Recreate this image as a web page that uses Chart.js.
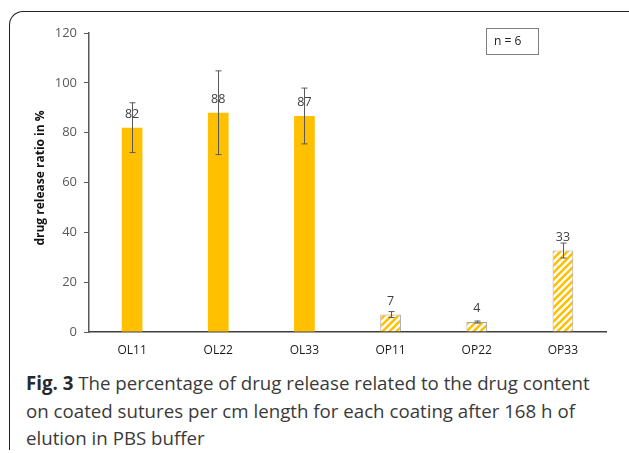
<!DOCTYPE html>
<html>
<head>
<meta charset="utf-8">
<script src="https://cdn.jsdelivr.net/npm/chart.js@4"></script>
<style>
  html,body{margin:0;padding:0;background:#fff;}
  body{width:629px;height:453px;position:relative;overflow:hidden;font-family:"Open Sans",sans-serif;}
  #panel{position:absolute;left:9px;top:11px;width:640px;height:438px;border-left:1.5px solid #222;border-top:1.5px solid #222;border-top-left-radius:14px;}
  #wrap{position:absolute;left:0;top:0;width:629px;height:365px;}
  #caption{position:absolute;left:26px;top:369px;width:610px;font-size:18.7px;line-height:27.5px;color:#3a3a3a;white-space:nowrap;}
  #caption b{color:#2a2a2a;}
</style>
</head>
<body>
<div id="panel"></div>
<div id="wrap"><canvas id="c" width="629" height="365"></canvas></div>
<div id="caption"><b>Fig. 3</b> The percentage of drug release related to the drug content<br>on coated sutures per cm length for each coating after 168 h of<br>elution in PBS buffer</div>
<script>
const categories = ["OL11","OL22","OL33","OP11","OP22","OP33"];
const releaseValues = [82, 88, 86.7, 7, 4, 32.7];
const errorValues = [10, 16.8, 11.2, 1.2, 0.4, 3];
const valueLabels = ["82","88","87","7","4","33"];
const hatched = [false,false,false,true,true,true];
const yTicks = [0,20,40,60,80,100,120];

function makeHatch(){
  const s = 7;
  const p = document.createElement('canvas');
  p.width = s; p.height = s;
  const g = p.getContext('2d');
  g.fillStyle = '#fff'; g.fillRect(0,0,s,s);
  g.strokeStyle = '#FFC000'; g.lineWidth = 2.6;
  g.beginPath();
  for (let k=-1;k<=1;k++){
    g.moveTo(k*s - 1, s + 1);
    g.lineTo(k*s + s + 1, -1);
  }
  g.stroke();
  return g.createPattern(p,'repeat');
}
const ctx = document.getElementById('c').getContext('2d');
const hatch = makeHatch();

const overlay = {
  id:'overlay',
  afterDatasetsDraw(chart){
    const c = chart.ctx, x = chart.scales.x, y = chart.scales.y;
    c.save();
    c.strokeStyle = '#595959'; c.lineWidth = 1;
    releaseValues.forEach((v,i)=>{
      const px = Math.round(x.getPixelForValue(i)) + 0.5;
      const t = y.getPixelForValue(v + errorValues[i]);
      const b = y.getPixelForValue(v - errorValues[i]);
      c.beginPath();
      c.moveTo(px,t); c.lineTo(px,b);
      c.moveTo(px-3,t); c.lineTo(px+3,t);
      c.moveTo(px-3,b); c.lineTo(px+3,b);
      c.stroke();
    });
    c.fillStyle = '#404040';
    c.font = '12.5px "Open Sans"';
    c.textAlign = 'center'; c.textBaseline = 'middle';
    releaseValues.forEach((v,i)=>{
      c.fillText(valueLabels[i], x.getPixelForValue(i), y.getPixelForValue(v) - 13.5);
    });
    c.save();
    c.translate(41, 178);
    c.rotate(-Math.PI/2);
    c.font = 'bold 12px "Open Sans"';
    c.fillStyle = '#111';
    c.fillText('drug release ratio in %', 0, 0);
    c.restore();
    c.strokeStyle = '#7f7f7f'; c.lineWidth = 1;
    c.strokeRect(486.5, 28.5, 52, 26);
    c.fillStyle = '#222';
    c.font = '12px "Open Sans"';
    c.textAlign = 'left';
    c.fillText('n = 6', 494, 42);
    c.restore();
  }
};

new Chart(ctx, {
  type:'bar',
  data:{
    labels: categories,
    datasets:[{
      data: releaseValues,
      backgroundColor: hatched.map(h => h ? hatch : '#FFC000'),
      borderColor: hatched.map(h => h ? '#A6A6A6' : 'rgba(0,0,0,0)'),
      borderWidth: hatched.map(h => h ? 1 : 0),
      categoryPercentage: 1,
      barPercentage: 0.24
    }]
  },
  options:{
    responsive:false,
    animation:false,
    events:[],
    layout:{padding:{left:0,right:23,top:33,bottom:0}},
    plugins:{legend:{display:false},tooltip:{enabled:false}},
    scales:{
      x:{
        grid:{display:false,drawTicks:false},
        border:{display:true,color:'#404040',width:1.5},
        ticks:{color:'#1a1a1a',font:{family:'"Open Sans"',size:12},padding:11,maxRotation:0},
        afterFit(s){ s.height = 33; }
      },
      y:{
        min:0,max:120,
        afterBuildTicks(s){ s.ticks = yTicks.map(v=>({value:v})); },
        grid:{display:true,drawOnChartArea:false,drawTicks:true,tickLength:5,color:'#595959'},
        border:{display:true,color:'#595959',width:1.5},
        ticks:{color:'#595959',font:{family:'"Open Sans"',size:13},padding:7},
        afterFit(s){ s.width = 89; }
      }
    }
  },
  plugins:[overlay]
});
</script>
</body>
</html>
